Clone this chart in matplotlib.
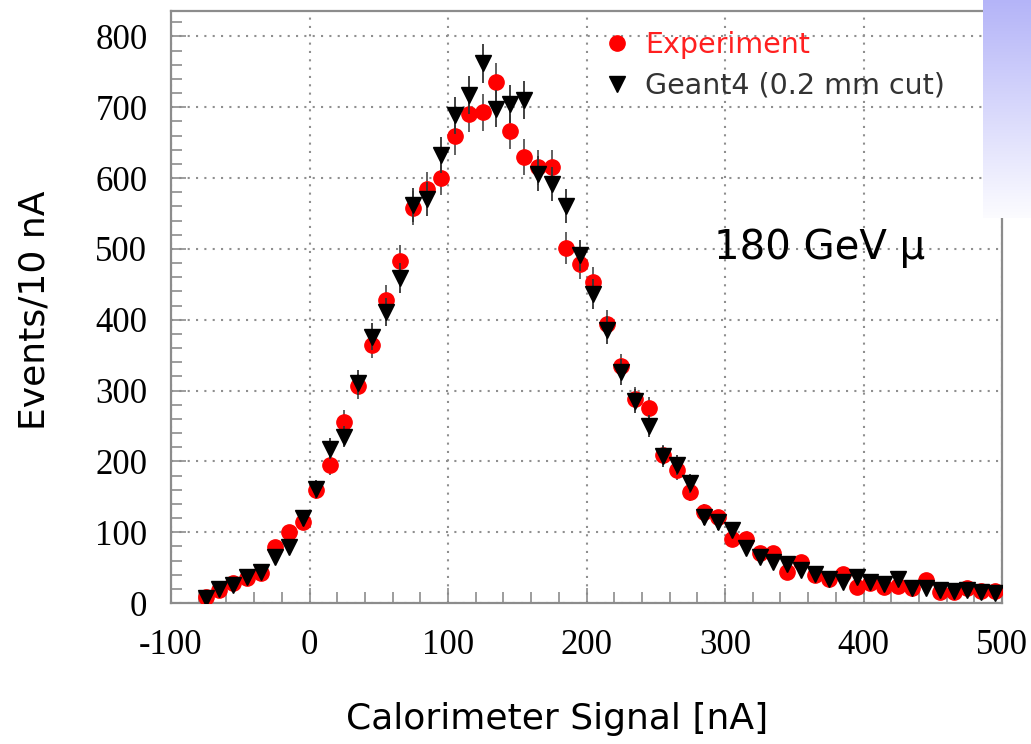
import numpy as np
import matplotlib
matplotlib.use("Agg")
import matplotlib.pyplot as plt
from matplotlib.lines import Line2D
from matplotlib.ticker import MultipleLocator

plt.rcParams['axes.unicode_minus'] = False

# bin centres, 10 nA bins
signal = np.arange(-75, 500, 10)

experiment = [8, 18, 28, 36, 42, 79, 100, 115, 160, 195,
              256, 306, 365, 428, 483, 558, 585, 600, 659, 691,
              693, 736, 667, 630, 615, 615, 501, 479, 453, 394,
              334, 288, 275, 209, 188, 157, 128, 121, 90, 91,
              70, 71, 44, 58, 40, 34, 41, 23, 28, 23,
              24, 21, 32, 16, 16, 21, 17, 17]

geant4 = [7, 20, 25, 37, 44, 65, 79, 120, 161, 218,
          235, 311, 376, 411, 459, 562, 571, 633, 689, 717,
          762, 698, 705, 710, 606, 592, 561, 491, 436, 385,
          326, 285, 250, 207, 195, 169, 121, 114, 103, 78,
          65, 58, 55, 47, 41, 34, 30, 37, 30, 27,
          34, 21, 21, 18, 17, 18, 15, 14]

exp_err = np.sqrt(experiment)
g4_err = np.sqrt(geant4)

fig = plt.figure(figsize=(10.31, 7.44), dpi=100)
ax = fig.add_axes([171 / 1031, 1 - 603 / 744, 831 / 1031, 592 / 744])

ax.errorbar(signal, experiment, yerr=exp_err, fmt='o', color='#ff0000',
            ecolor='#555555', elinewidth=1.3, markersize=11, capsize=0, zorder=3)
ax.errorbar(signal, geant4, yerr=g4_err, fmt='v', color='black',
            ecolor='#333333', elinewidth=1.3, markersize=11, capsize=0, zorder=4)

ax.set_xlim(-100, 500)
ax.set_ylim(0, 836)
ax.xaxis.set_major_locator(MultipleLocator(100))
ax.xaxis.set_minor_locator(MultipleLocator(20))
ax.yaxis.set_major_locator(MultipleLocator(100))
ax.yaxis.set_minor_locator(MultipleLocator(20))

ax.grid(True, which='major', color='#8f8f8f', linestyle=(0, (1, 3)), linewidth=1.5)
ax.set_axisbelow(True)

for s in ax.spines.values():
    s.set_color('#8c8c8c')
    s.set_linewidth(1.6)

ax.tick_params(which='both', direction='in', top=False, right=False,
               color='#8c8c8c', width=1.2)
ax.tick_params(which='major', length=11)
ax.tick_params(which='minor', length=8)
ax.tick_params(axis='y', which='major', pad=17)
ax.tick_params(axis='x', which='major', pad=19)
for lbl in ax.get_xticklabels() + ax.get_yticklabels():
    lbl.set_fontfamily('Liberation Serif')
    lbl.set_fontsize(25)

ax.set_xlabel('Calorimeter Signal [nA]', fontsize=26, va='center')
ax.xaxis.set_label_coords(0.465, -0.196)
ax.set_ylabel('Events/10 nA', fontsize=26, va='center')
ax.yaxis.set_label_coords(-0.164, 0.495)

ax.text(368, 501, '180 GeV μ', fontsize=29, ha='center', va='center', zorder=5)

handles = [Line2D([], [], marker='o', color='#ff0000', linestyle='none', markersize=11),
           Line2D([], [], marker='v', color='black', linestyle='none', markersize=11)]
leg = ax.legend(handles, ['Experiment', 'Geant4 (0.2 mm cut)'], loc='upper left',
                bbox_to_anchor=(0.495, 1.0), frameon=False, fontsize=20.5,
                handlelength=1.0, handletextpad=0.5, labelspacing=0.45,
                borderaxespad=0.3)
leg.get_texts()[0].set_color('#ff2020')
leg.get_texts()[1].set_color('#333333')

# lavender strip in the top-right corner
band = fig.add_axes([983 / 1031, 1 - 218 / 744, 48 / 1031, 218 / 744], zorder=10)
t = np.linspace(0, 1, 256)[:, None]
top = np.array([180, 180, 248]) / 255
bottom = np.array([252, 252, 255]) / 255
grad = top * (1 - t[..., None]) + bottom * t[..., None]
grad = np.repeat(grad, 2, axis=1)
band.imshow(grad, aspect='auto', extent=(0, 1, 0, 1))
band.set_axis_off()

fig.savefig('out.png', dpi=100)
